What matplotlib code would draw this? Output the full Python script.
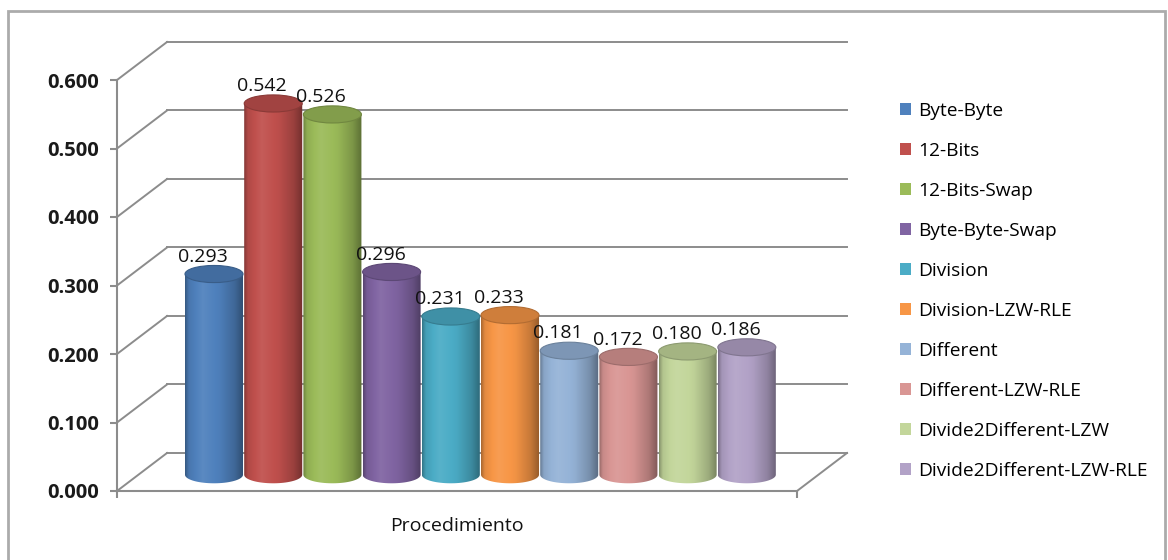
import matplotlib.pyplot as plt
import numpy as np
from matplotlib.patches import Ellipse, PathPatch, Patch, Rectangle
from matplotlib.path import Path
from matplotlib.colors import to_rgb

methods = ["Byte-Byte", "12-Bits", "12-Bits-Swap", "Byte-Byte-Swap", "Division",
           "Division-LZW-RLE", "Different", "Different-LZW-RLE",
           "Divide2Different-LZW", "Divide2Different-LZW-RLE"]
ratios = [0.293, 0.542, 0.526, 0.296, 0.231, 0.233, 0.181, 0.172, 0.180, 0.186]
colors = ["#4F81BD", "#C0504D", "#9BBB59", "#8064A2", "#4BACC6",
          "#F79646", "#95B3D7", "#D99694", "#C3D69B", "#B2A2C7"]
yticks = [0.0, 0.1, 0.2, 0.3, 0.4, 0.5, 0.6]
xlabel = "Procedimiento"

plt.rcParams['font.family'] = ['Open Sans', 'DejaVu Sans']

W, H = 1168, 560
fig = plt.figure(figsize=(W / 100, H / 100), dpi=100)
fig.patch.set_facecolor('white')
# outer chart border
fig.add_artist(Rectangle((8 / W, -0.02), (1165 - 8) / W, (H - 11) / H + 0.02,
                         transform=fig.transFigure, fill=False,
                         edgecolor='#ababab', linewidth=2))

ax = fig.add_axes([117 / W, 69 / H, 680 / W, 411 / H])
xmin, xmax = -1.216, 10.27

# depth of the 3d box, in data units
dx, dy = 0.845, 0.0555
grid_c = '#8c8c8c'

# back wall gridlines + diagonals on the side wall
for y in yticks:
    ax.plot([xmin + dx, xmax + dx], [y + dy, y + dy], color=grid_c, lw=1.4,
            clip_on=False, zorder=1)
    ax.plot([xmin, xmin + dx], [y, y + dy], color=grid_c, lw=1.4,
            clip_on=False, zorder=1)
# right edge of the floor
ax.plot([xmax, xmax + dx], [0, dy], color=grid_c, lw=1.4, clip_on=False, zorder=1)


def shade(c, f):
    c = np.array(to_rgb(c))
    if f >= 1:
        return c + (1 - c) * (f - 1)
    return c * f


# horizontal light profile of the cylinder body
prof_t = np.linspace(0, 1, 64)
prof_f = np.interp(prof_t, [0, 0.06, 0.3, 0.6, 0.85, 1.0],
                   [0.70, 0.92, 1.07, 0.97, 0.80, 0.60])

cw = 0.98     # cylinder width
eh = 0.025    # ellipse height
for i, (v, c) in enumerate(zip(ratios, colors)):
    xc = i + dx / 2
    base = dy / 2 - 0.004
    top = v + dy / 2 - 0.004
    x0, x1 = xc - cw / 2, xc + cw / 2
    t = np.linspace(0, -np.pi, 40)
    arc = np.column_stack([xc + cw / 2 * np.cos(t), base + eh / 2 * np.sin(t)])
    verts = np.vstack([[[x0, top], [x1, top]], arc, [[x0, top]]])
    codes = [Path.MOVETO] + [Path.LINETO] * (len(verts) - 2) + [Path.CLOSEPOLY]
    body = PathPatch(Path(verts, codes), facecolor='none', edgecolor='none',
                     zorder=3 + i * 0.1)
    ax.add_patch(body)
    grad = np.array([[shade(c, f) for f in prof_f]])
    im = ax.imshow(grad, extent=[x0, x1, base - eh, top], aspect='auto',
                   origin='lower', interpolation='bilinear', zorder=3 + i * 0.1)
    im.set_clip_path(body)
    ax.add_patch(Ellipse((xc, top), cw, eh, facecolor=shade(c, 0.84),
                         edgecolor=shade(c, 0.72), lw=0.8, zorder=3.05 + i * 0.1))
    ax.text(i + 0.236, v + 0.049, f"{v:.3f}", ha='center', va='center',
            fontsize=14, color='#111111', zorder=10)

ax.set_xlim(xmin, xmax)
ax.set_ylim(0, 0.6)

# front axes
for s in ['top', 'right']:
    ax.spines[s].set_visible(False)
for s in ['left', 'bottom']:
    ax.spines[s].set_color(grid_c)
    ax.spines[s].set_linewidth(1.5)
ax.set_yticks(yticks)
ax.set_yticklabels([f"{y:.3f}" for y in yticks], fontweight='bold', fontsize=14.5,
                   color='#1a1a1a')
ax.set_xticks([xmin, xmax])
ax.set_xticklabels(['', ''])
ax.tick_params(axis='both', color=grid_c, width=1.5, length=5, direction='out')
ax.tick_params(axis='y', pad=8)
ax.set_xlabel(xlabel, fontsize=14, color='#111111', labelpad=10)
ax.patch.set_alpha(0)

handles = [Patch(facecolor=c, edgecolor='none') for c in colors]
fig.legend(handles, methods, loc='upper left', bbox_to_anchor=(892 / W, 1 - 94 / H),
           frameon=False, fontsize=13.8, handlelength=0.6, handleheight=0.6,
           handletextpad=0.35, labelspacing=1.15, borderaxespad=0)

fig.savefig('out.png', dpi=100, facecolor='white')
